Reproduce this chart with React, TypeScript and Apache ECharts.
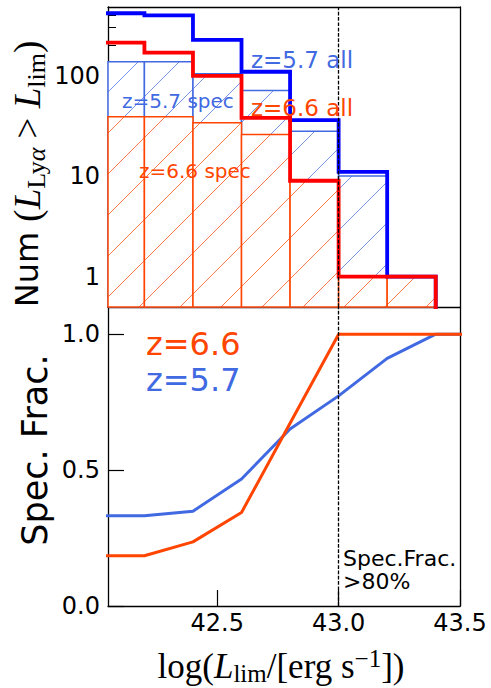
import React, { useEffect, useRef } from 'react';
import * as echarts from 'echarts';

// ---- data ----
const binEdges = [42.0, 42.2, 42.4, 42.6, 42.8, 43.0, 43.2, 43.4];
const allZ57 = [416, 397, 226, 109, 36, 11, 1];
const specZ57 = [137, 137, 104, 71, 28, 10, 1];
const allZ66 = [212, 169, 99, 38, 9, 1, 1];
const specZ66 = [39, 39, 34, 26, 9, 1, 1];

const fracX = [42.0, 42.2, 42.4, 42.6, 42.8, 43.0, 43.2, 43.4, 43.6];
const fracZ57 = [0.332, 0.332, 0.349, 0.467, 0.651, 0.773, 0.911, 1.0, 1.0];
const fracZ66 = [0.185, 0.185, 0.236, 0.344, 0.672, 1.0, 1.0, 1.0, 1.0];

const xTicks = [42.5, 43.0, 43.5];
const numMajorTicks = [1, 10, 100];
const numMinorTicks = [0.6, 0.7, 0.8, 0.9, 2, 3, 4, 5, 6, 7, 8, 9, 20, 30, 40, 50, 60, 70, 80, 90, 200, 300, 400];
const fracTicks = [0, 0.5, 1.0];
const limitLine = 43.0;

const X_MIN = 42.05;
const X_MAX = 43.5;
const NUM_MIN = 0.5;
const NUM_MAX = 480;
const FRAC_MIN = 0;
const FRAC_MAX = 1.1;

const BLUE_ALL = '#0000FF';
const RED_ALL = '#FF0000';
const BLUE = '#4169E1';
const RED = '#FF4500';
const SANS = '"DejaVu Sans"';
const SERIF = '"Liberation Serif"';

const HATCH = 41;
const HATCH_OFF = 36;

function stepPoints(edges: number[], counts: number[], floor: number) {
  const pts: number[][] = [];
  counts.forEach((c, i) => {
    pts.push([edges[i], c], [edges[i + 1], c]);
  });
  pts.push([edges[counts.length], floor]);
  return pts;
}

// hatched bar: white box, "/" hatch lines clipped to the box, coloured outline
function barSeries(values: number[], color: string) {
  return {
    type: 'custom',
    xAxisIndex: 0,
    yAxisIndex: 0,
    silent: true,
    data: values.map((v, i) => [binEdges[i], binEdges[i + 1], v]),
    encode: { x: [0, 1], y: 2 },
    renderItem: (params: any, api: any) => {
      const v = api.value(2);
      if (!(v > 0)) return null;
      const cs = params.coordSys;
      const p0 = api.coord([api.value(0), v]);
      const p1 = api.coord([api.value(1), NUM_MIN]);
      const L = Math.max(p0[0], cs.x);
      const R = Math.min(p1[0], cs.x + cs.width);
      const T = Math.max(p0[1], cs.y);
      const B = Math.min(p1[1], cs.y + cs.height);
      if (R <= L) return null;
      const children: any[] = [
        { type: 'rect', shape: { x: L, y: T, width: R - L, height: B - T }, style: { fill: '#fff', stroke: null } },
      ];
      const start = Math.ceil((L + T - HATCH_OFF) / HATCH) * HATCH + HATCH_OFF;
      for (let d = start; d <= R + B; d += HATCH) {
        const xa = Math.max(L, d - B);
        const xb = Math.min(R, d - T);
        if (xb <= xa) continue;
        children.push({
          type: 'line',
          shape: { x1: xa, y1: d - xa, x2: xb, y2: d - xb },
          style: { stroke: color, lineWidth: 0.8, opacity: 0.9 },
        });
      }
      children.push({
        type: 'rect', shape: { x: L, y: T, width: R - L, height: B - T },
        style: { fill: null, stroke: color, lineWidth: 1.5 },
      });
      return { type: 'group', children };
    },
  };
}

function label(x: number, y: number, text: string, color: string, size: number) {
  return {
    type: 'text', x, y, z: 100, silent: true,
    style: { text, fill: color, font: `${size}px ${SANS}`, align: 'left', verticalAlign: 'middle', lineHeight: size },
  };
}

const frameLine = { show: true, onZero: false, lineStyle: { color: '#000', width: 1.3 } };
const noLine = { show: false, onZero: false };

function frameAxis(gridIndex: number, position: string, min: number, max: number) {
  return {
    type: 'value', gridIndex, position, min, max,
    axisLine: frameLine,
    axisTick: { show: false }, axisLabel: { show: false }, splitLine: { show: false },
  };
}

export default function App() {
  const ref = useRef<HTMLDivElement>(null);
  useEffect(() => {
    if (!ref.current) return;
    const chart = echarts.init(ref.current, null, { renderer: 'svg' });
    const log10 = (v: number) => Math.log10(v);

    const tickLabel = { color: '#000', fontFamily: SANS, fontSize: 24 };
    const tickLine = { color: '#000', width: 1.2 };

    const option: any = {
      animation: false,
      backgroundColor: '#ffffff',
      grid: [
        { left: 108, top: 7, width: 352, height: 300, show: false },
        { left: 108, top: 307, width: 352, height: 299, show: false },
      ],
      xAxis: [
        {
          type: 'value', gridIndex: 0, min: X_MIN, max: X_MAX, position: 'bottom',
          axisLine: frameLine, splitLine: { show: false },
          axisTick: { show: true, inside: true, length: 16, customValues: [42.5, 43.0], lineStyle: tickLine },
          axisLabel: { show: false },
        },
        {
          type: 'value', gridIndex: 1, min: X_MIN, max: X_MAX, position: 'bottom',
          axisLine: frameLine, splitLine: { show: false },
          axisTick: { show: true, inside: true, length: 16, customValues: xTicks, lineStyle: tickLine },
          axisLabel: { ...tickLabel, customValues: xTicks, margin: 5, formatter: (v: number) => v.toFixed(1) },
        },
        frameAxis(0, 'top', X_MIN, X_MAX),
      ],
      yAxis: [
        {
          type: 'log', gridIndex: 0, min: NUM_MIN, max: NUM_MAX, logBase: 10, position: 'left',
          axisLine: noLine, axisTick: { show: false }, axisLabel: { show: false }, splitLine: { show: false },
        },
        {
          type: 'value', gridIndex: 0, min: log10(NUM_MIN), max: log10(NUM_MAX), position: 'left',
          axisLine: frameLine, splitLine: { show: false },
          axisTick: { show: true, inside: true, length: 16, customValues: numMajorTicks.map(log10), lineStyle: tickLine },
          axisLabel: { ...tickLabel, customValues: numMajorTicks.map(log10), margin: 8, formatter: (v: number) => String(Math.round(Math.pow(10, v))) },
        },
        {
          type: 'value', gridIndex: 0, min: log10(NUM_MIN), max: log10(NUM_MAX), position: 'left',
          axisLine: noLine, splitLine: { show: false },
          axisTick: { show: true, inside: true, length: 8, customValues: numMinorTicks.map(log10), lineStyle: { color: '#000', width: 1 } },
          axisLabel: { show: false },
        },
        {
          type: 'value', gridIndex: 1, min: FRAC_MIN, max: FRAC_MAX, position: 'left',
          axisLine: frameLine, splitLine: { show: false },
          axisTick: { show: true, inside: true, length: 16, customValues: fracTicks, lineStyle: tickLine },
          axisLabel: { ...tickLabel, customValues: fracTicks, margin: 8, formatter: (v: number) => v.toFixed(1) },
        },
        frameAxis(0, 'right', 0, 1),
        frameAxis(1, 'right', 0, 1),
      ],
      series: [
        barSeries(specZ57, BLUE),
        barSeries(specZ66, RED),
        {
          type: 'line', xAxisIndex: 0, yAxisIndex: 0, silent: true,
          data: stepPoints(binEdges, allZ57, 0.1), symbol: 'none',
          lineStyle: { color: BLUE_ALL, width: 3.8, join: 'miter', cap: 'butt' },
        },
        {
          type: 'line', xAxisIndex: 0, yAxisIndex: 0, silent: true,
          data: stepPoints(binEdges, allZ66, 0.1), symbol: 'none',
          lineStyle: { color: RED_ALL, width: 3.8, join: 'miter', cap: 'butt' },
          markLine: {
            silent: true, symbol: ['none', 'none'], label: { show: false },
            lineStyle: { color: '#000', width: 1.3, type: [3.7, 1.6] },
            data: [{ xAxis: limitLine }],
          },
        },
        {
          type: 'line', xAxisIndex: 1, yAxisIndex: 3, silent: true,
          data: fracX.map((x, i) => [x, fracZ57[i]]), symbol: 'none',
          lineStyle: { color: BLUE, width: 3 },
        },
        {
          type: 'line', xAxisIndex: 1, yAxisIndex: 3, silent: true,
          data: fracX.map((x, i) => [x, fracZ66[i]]), symbol: 'none',
          lineStyle: { color: RED, width: 3 },
          markLine: {
            silent: true, symbol: ['none', 'none'], label: { show: false },
            lineStyle: { color: '#000', width: 1.3, type: [3.7, 1.6] },
            data: [{ xAxis: limitLine }],
          },
        },
      ],
      graphic: [
        label(251, 60, 'z=5.7 all', BLUE, 23),
        label(251, 108, 'z=6.6 all', RED, 23),
        label(122, 100.5, 'z=5.7 spec', BLUE, 20),
        label(139, 170.5, 'z=6.6 spec', RED, 20),
        label(146, 344, 'z=6.6', RED, 32),
        label(146, 380, 'z=5.7', BLUE, 32),
        label(343, 558.5, 'Spec.Frac.', '#000', 22),
        label(343, 581.5, '>80%', '#000', 22),
        {
          type: 'text', x: 27, y: 174, rotation: Math.PI / 2, z: 100, silent: true,
          style: {
            text: '{n|Num }{m|(}{i|L}{s|Ly}{si|α}{m| > }{i|L}{s|lim}{m|)}',
            align: 'center', verticalAlign: 'middle', fill: '#000',
            rich: {
              n: { fontFamily: SANS, fontSize: 32, lineHeight: 44, verticalAlign: 'middle' },
              m: { fontFamily: SERIF, fontSize: 37, lineHeight: 44, verticalAlign: 'middle' },
              i: { fontFamily: SERIF, fontSize: 37, fontStyle: 'italic', lineHeight: 44, verticalAlign: 'middle' },
              s: { fontFamily: SERIF, fontSize: 26, lineHeight: 24, verticalAlign: 'bottom' },
              si: { fontFamily: SERIF, fontSize: 26, fontStyle: 'italic', lineHeight: 24, verticalAlign: 'bottom' },
            },
          },
        },
        {
          type: 'text', x: 35, y: 450, rotation: Math.PI / 2, z: 100, silent: true,
          style: { text: 'Spec. Frac.', fill: '#000', font: `35px ${SANS}`, align: 'center', verticalAlign: 'middle', lineHeight: 36 },
        },
        {
          type: 'text', x: 281, y: 666, z: 100, silent: true,
          style: {
            text: '{m|log(}{i|L}{s|lim}{m|/[erg s}{p|−1}{m|])}',
            align: 'center', verticalAlign: 'middle', fill: '#000',
            rich: {
              m: { fontFamily: SERIF, fontSize: 35, lineHeight: 40, verticalAlign: 'middle' },
              i: { fontFamily: SERIF, fontSize: 35, fontStyle: 'italic', lineHeight: 40, verticalAlign: 'middle' },
              s: { fontFamily: SERIF, fontSize: 25, lineHeight: 22, verticalAlign: 'bottom' },
              p: { fontFamily: SERIF, fontSize: 25, lineHeight: 20, verticalAlign: 'top' },
            },
          },
        },
      ],
    };
    chart.setOption(option);
    return () => chart.dispose();
  }, []);
  return <div ref={ref} style={{ position: 'fixed', left: 0, top: 0, width: 491, height: 688, background: '#fff' }} />;
}
